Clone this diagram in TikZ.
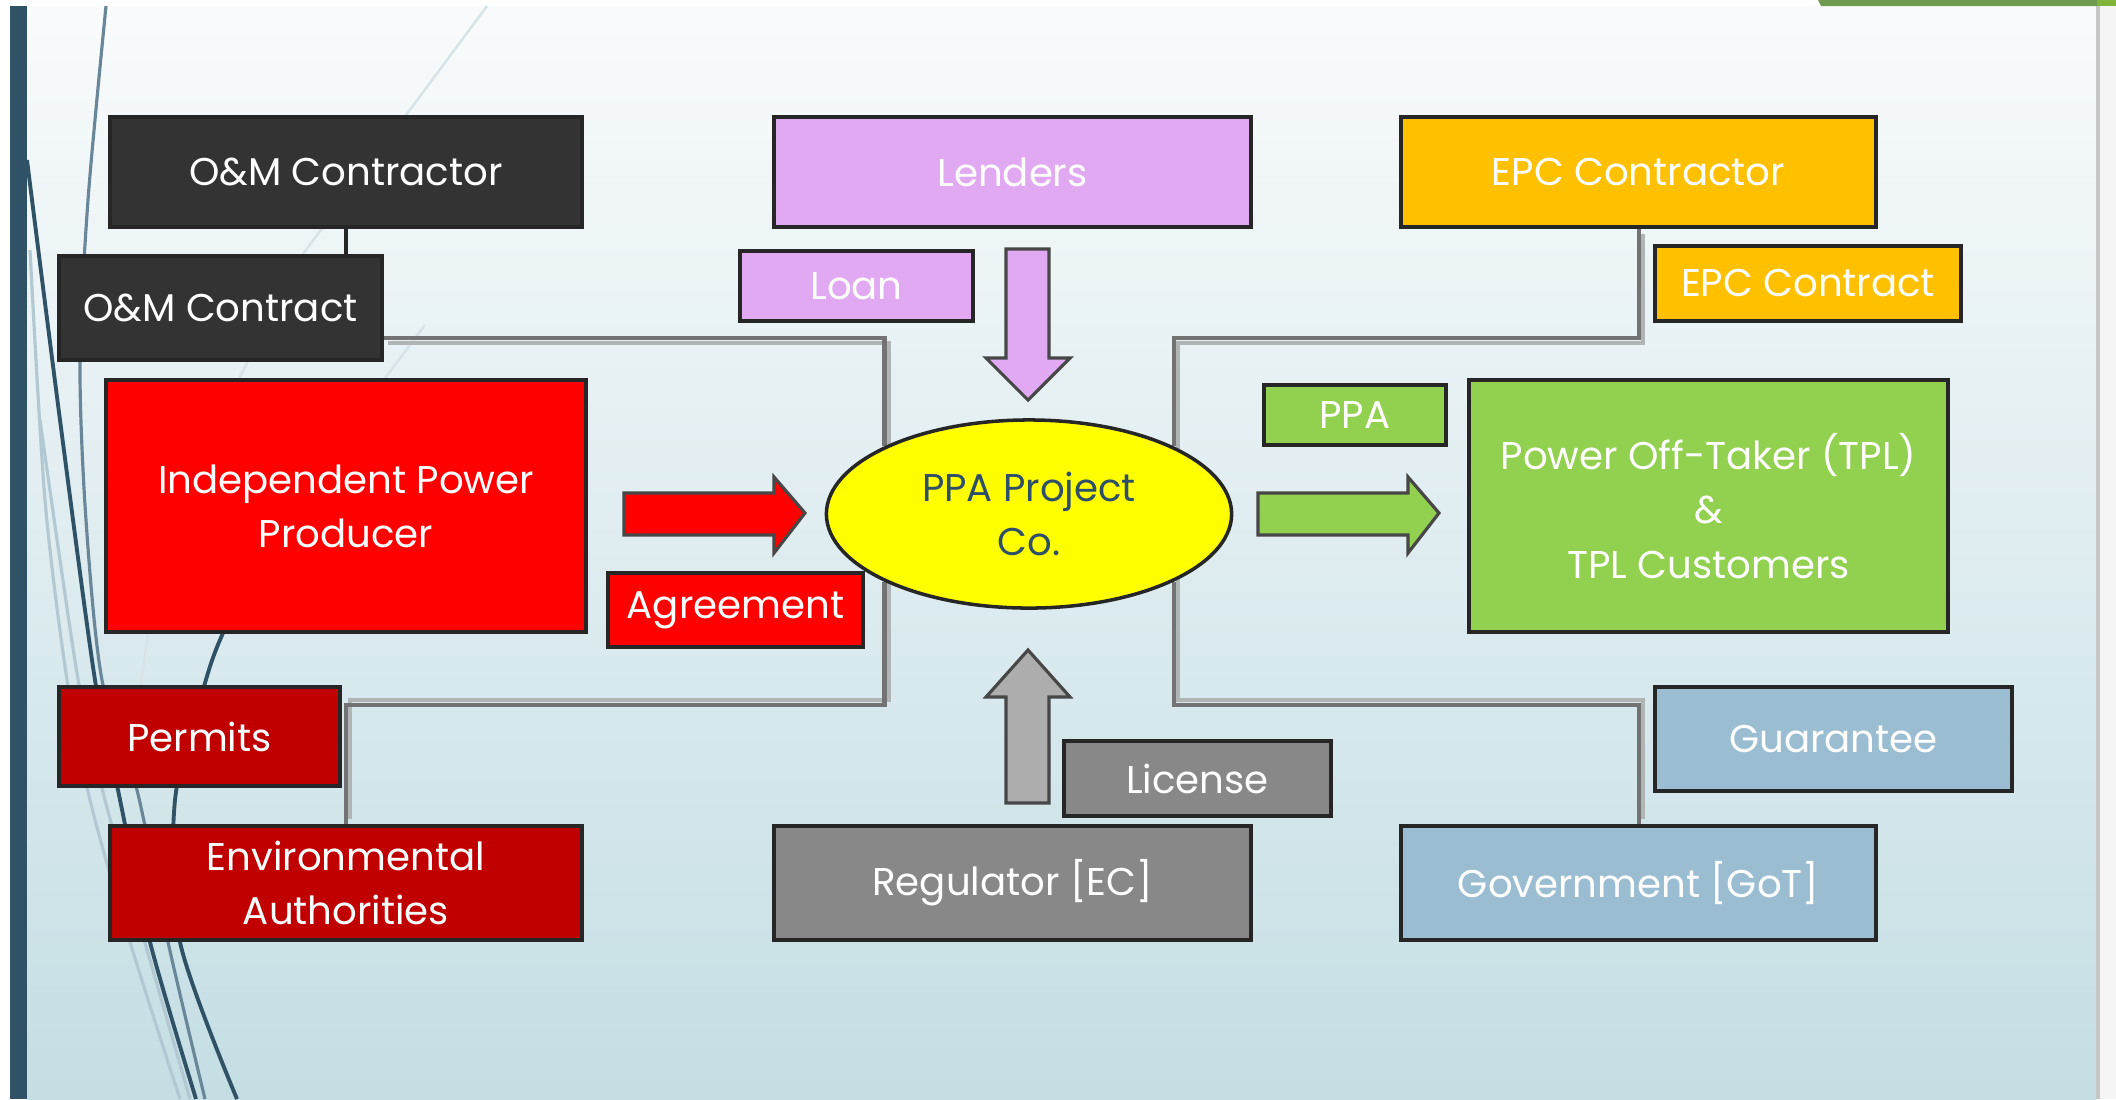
\documentclass[tikz,border=0pt]{standalone}
\usepackage{fontspec}
\setmainfont{Poppins}
\usetikzlibrary{shapes.geometric}
\definecolor{bar}{HTML}{2F5266}
\definecolor{bgtop}{HTML}{F9FBFC}
\definecolor{bgmid}{HTML}{E3EEF2}
\definecolor{bgbot}{HTML}{C4DEE4}
\definecolor{bord}{HTML}{262626}
\definecolor{omfill}{HTML}{333333}
\definecolor{lendfill}{HTML}{E2A9F3}
\definecolor{epcfill}{HTML}{FFC000}
\definecolor{ippfill}{HTML}{FF0000}
\definecolor{darkred}{HTML}{C00000}
\definecolor{ppafill}{HTML}{FFFF00}
\definecolor{grn}{HTML}{92D050}
\definecolor{gryfill}{HTML}{888888}
\definecolor{arrgray}{HTML}{ADADAD}
\definecolor{bluefill}{HTML}{9BBDD2}
\definecolor{ppatext}{HTML}{2F4F69}
\definecolor{conngray}{HTML}{737373}
\definecolor{connshadow}{HTML}{B0B4B5}
\definecolor{curvelight}{HTML}{B2C8D2}
\definecolor{curvemid}{HTML}{6A8799}
\definecolor{faint}{HTML}{D8E3E8}
\definecolor{topgreen}{HTML}{6F9B50}
\definecolor{topgreen2}{HTML}{80B53A}
\definecolor{rightline}{HTML}{C6C6C6}
\definecolor{rightfill}{HTML}{F5F5F5}
\pgfdeclarelayer{back}
\pgfdeclarelayer{mid}
\pgfsetlayers{back,mid,main}
\tikzset{
  box/.style={draw=bord, line width=1.25pt, text=white, align=center,
    inner sep=0pt, font=\fontsize{11}{15.4}\selectfont},
  conn/.style={draw=conngray, line width=1.15pt,
    preaction={draw=connshadow, line width=1.15pt, transform canvas={shift={(4,5)}}}},
  connb/.style={draw=conngray, line width=1.15pt,
    preaction={draw=connshadow, line width=1.15pt, transform canvas={shift={(4,-5)}}}},
  darkconn/.style={draw=bord, line width=1.15pt},
  blockarrow/.style={draw=bord!85, line width=0.9pt, line join=miter},
  curvedark/.style={draw=bar, line width=1.1pt},
  curvemed/.style={draw=curvemid, line width=0.9pt},
  curvelt/.style={draw=curvelight, line width=0.9pt},
}
\begin{document}
\begin{tikzpicture}[x=0.01cm,y=-0.01cm]
\useasboundingbox (0,0) rectangle (2116,1099);
\begin{pgfonlayer}{back}
  \fill[white] (0,0) rectangle (2116,1099);
  \shade[top color=bgtop, middle color=bgmid, bottom color=bgbot] (27,6) rectangle (2096,1099);
  \fill[bar] (10,6) rectangle (27,1099);
  \fill[rightline] (2096,6) rectangle (2100,1099);
  \fill[rightfill] (2100,6) rectangle (2116,1099);
  \fill[topgreen] (1818,0) -- (2097,0) -- (2097,6) -- (1821,6) -- cycle;
  \fill[topgreen2] (2097,0) rectangle (2116,6);
  % decorative wisps
  \draw[faint, line width=0.7pt] (487,6) -- (300,258) -- (236,385);
  \draw[faint, line width=0.7pt] (425,325) -- (380,385);
  \draw[faint, line width=0.7pt] (150,620) -- (140,690);
  \draw[curvelt] plot[smooth] coordinates {(30,250) (45,500) (67,680) (90,800) (130,942) (180,1099)};
  \draw[curvelt] plot[smooth] coordinates {(40,420) (60,560) (80,690) (105,800) (150,960) (190,1099)};
  \draw[curvemed] plot[smooth] coordinates {(106,6) (88,200) (80,364) (86,520) (102,680) (137,790) (168,942) (205,1099)};
  \draw[curvedark] plot[smooth] coordinates {(27,160) (60,420) (95,680) (118,790) (150,942) (196,1099)};
  \draw[curvedark] plot[smooth] coordinates {(255,570) (223,633) (205,683) (175,800) (180,942) (237,1099)};
\end{pgfonlayer}

% nodes
\node[box, fill=omfill, minimum width=4.72cm, minimum height=1.10cm] (om) at (346,172) {O\&M Contractor};
\node[box, fill=omfill, minimum width=3.23cm, minimum height=1.04cm] (omct) at (220.5,308) {O\&M Contract};
\node[box, fill=lendfill, minimum width=4.77cm, minimum height=1.10cm] (lend) at (1012.5,172) {Lenders};
\node[box, fill=lendfill, minimum width=2.33cm, minimum height=0.70cm] (loan) at (856.5,286) {Loan};
\node[box, fill=epcfill, minimum width=4.75cm, minimum height=1.10cm] (epc) at (1638.5,172) {EPC Contractor};
\node[box, fill=epcfill, minimum width=3.06cm, minimum height=0.75cm] (epcc) at (1808,283.5) {EPC Contract};
\node[box, fill=ippfill, minimum width=4.80cm, minimum height=2.52cm] (ipp) at (346,506) {Independent Power\\Producer};
\node[box, fill=ippfill, minimum width=2.55cm, minimum height=0.74cm] (agr) at (735.5,610) {Agreement};
\node[box, fill=ppafill, ellipse, text=ppatext, minimum width=4.05cm, minimum height=1.88cm, line width=1pt] (ppa) at (1029,514) {PPA Project\\Co.};
\node[box, fill=grn, minimum width=1.82cm, minimum height=0.60cm] (ppab) at (1355,415) {PPA};
\node[box, fill=grn, minimum width=4.79cm, minimum height=2.52cm] (tpl) at (1708.5,506) {Power Off-Taker (TPL)\\\&\\TPL Customers};
\node[box, fill=darkred, minimum width=2.81cm, minimum height=0.99cm] (perm) at (199.5,736.5) {Permits};
\node[box, fill=darkred, minimum width=4.72cm, minimum height=1.14cm] (env) at (346,883) {Environmental\\Authorities};
\node[box, fill=gryfill, minimum width=2.67cm, minimum height=0.75cm] (lic) at (1197.5,778.5) {License};
\node[box, fill=gryfill, minimum width=4.77cm, minimum height=1.14cm] (reg) at (1012.5,883) {Regulator [EC]};
\node[box, fill=bluefill, minimum width=3.57cm, minimum height=1.04cm] (guar) at (1833.5,739) {Guarantee};
\node[box, fill=bluefill, minimum width=4.75cm, minimum height=1.14cm] (gov) at (1638.5,883) {Government [GoT]};

% connectors
\coordinate (yt) at (0,338);
\coordinate (yb) at (0,705);
\begin{pgfonlayer}{mid}
  \draw[darkconn] (om.south) -- (om.south |- omct.north);
  \draw[conn] ([yshift=-0.3cm]omct.east) -| (ppa.north west);
  \draw[conn] (ppa.north east) |- (epc.south |- yt) -- (epc.south);
  \draw[connb] (ppa.south west) |- (env.north |- yb) -- (env.north);
  \draw[connb] (ppa.south east) |- (gov.north |- yb) -- (gov.north);
\end{pgfonlayer}

% block arrows
\draw[blockarrow, fill=lendfill] (1006,249) -- (1049,249) -- (1049,358) -- (1070,358) -- (1028,400) -- (986,358) -- (1006,358) -- cycle;
\draw[blockarrow, fill=arrgray] (1006,803) -- (1049,803) -- (1049,697) -- (1070,697) -- (1028,650) -- (986,697) -- (1006,697) -- cycle;
\draw[blockarrow, fill=ippfill] (624,493) -- (774,493) -- (774,477) -- (805,513) -- (774,553) -- (774,535) -- (624,535) -- cycle;
\draw[blockarrow, fill=grn] (1258,493) -- (1408,493) -- (1408,477) -- (1439,513) -- (1408,553) -- (1408,535) -- (1258,535) -- cycle;
\end{tikzpicture}
\end{document}
